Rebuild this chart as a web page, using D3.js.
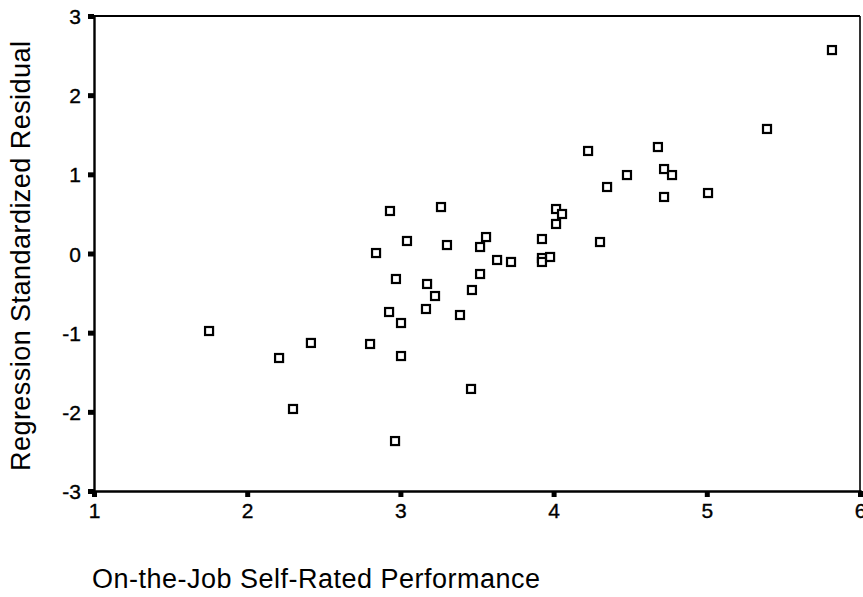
<!DOCTYPE html>
<html>
<head>
<meta charset="utf-8">
<script src="https://cdn.jsdelivr.net/npm/d3@7"></script>
<style>
  html, body { margin: 0; padding: 0; background: #fff; }
  svg { display: block; }
  text { font-family: "Liberation Sans", Arial, sans-serif; fill: #000; }
</style>
</head>
<body>
<svg id="chart" width="863" height="597"></svg>
<script>
const performance = [1.751, 2.208, 2.416, 2.299, 2.802, 2.841, 2.932, 2.971, 2.926, 3.004,
  3.004, 2.965, 3.043, 3.174, 3.167, 3.226, 3.265, 3.304, 3.389, 3.467,
  3.461, 3.520, 3.520, 3.559, 3.631, 3.722, 3.924, 3.924, 3.924, 3.977,
  4.016, 4.016, 4.055, 4.225, 4.303, 4.349, 4.479, 4.681, 4.721, 4.773,
  4.721, 5.008, 5.393, 5.817];
const residual = [-0.979, -1.320, -1.130, -1.964, -1.143, 0.006, 0.537, -0.322, -0.739, -0.878,
  -1.295, -2.369, 0.158, -0.385, -0.701, -0.537, 0.587, 0.107, -0.777, -0.461,
  -1.711, 0.082, -0.259, 0.208, -0.082, -0.107, 0.183, -0.057, -0.107, -0.044,
  0.373, 0.562, 0.499, 1.295, 0.145, 0.840, 0.991, 1.345, 1.067, 0.991,
  0.714, 0.764, 1.573, 2.570];
const xTicks = [1, 2, 3, 4, 5, 6];
const yTicks = [-3, -2, -1, 0, 1, 2, 3];
const xTitle = "On-the-Job Self-Rated Performance";
const yTitle = "Regression Standardized Residual";

const svg = d3.select("#chart");
const L = 94, R = 860, T = 16, B = 491;

const x = d3.scaleLinear().domain([1, 6]).range([L, R]);
const y = d3.scaleLinear().domain([-3, 3]).range([B, T]);

// frame: top and right
svg.append("line").attr("x1", L).attr("x2", R).attr("y1", T).attr("y2", T)
  .attr("stroke", "#000").attr("stroke-width", 2.2);
svg.append("line").attr("x1", R).attr("x2", R).attr("y1", T).attr("y2", B)
  .attr("stroke", "#000").attr("stroke-width", 1.6);

// axes
const xAxis = svg.append("g").attr("transform", `translate(0,${B})`)
  .call(d3.axisBottom(x).tickValues(xTicks).tickFormat(d3.format("d")).tickSize(6).tickPadding(6));
const yAxis = svg.append("g").attr("transform", `translate(${L},0)`)
  .call(d3.axisLeft(y).tickValues(yTicks).tickFormat(d => d < 0 ? "-" + Math.abs(d) : String(d)).tickSize(6).tickPadding(7));

[xAxis, yAxis].forEach(g => {
  g.select(".domain").attr("stroke", "#000").attr("stroke-width", 2.4);
  g.selectAll(".tick line").attr("stroke", "#000").attr("stroke-width", 5);
  g.selectAll(".tick text").style("font-size", "21px").attr("fill", "#000")
    .attr("stroke", "#000").attr("stroke-width", 0.35)
    .style("font-family", '"Liberation Sans", Arial, sans-serif');
});
yAxis.selectAll(".tick text").attr("dy", "0.36em");
xAxis.selectAll(".tick text").attr("dy", "0.72em");

// points
svg.append("g").selectAll("rect")
  .data(performance.map((p, i) => [p, residual[i]]))
  .join("rect")
  .attr("x", d => x(d[0]) - 4)
  .attr("y", d => y(d[1]) - 4)
  .attr("width", 8).attr("height", 8)
  .attr("fill", "#fff").attr("stroke", "#000").attr("stroke-width", 2.2);

// titles
svg.append("text")
  .attr("x", 92).attr("y", 588)
  .attr("textLength", 448).attr("lengthAdjust", "spacing")
  .style("font-size", "27px")
  .text(xTitle);

svg.append("text")
  .attr("transform", "translate(30,256) rotate(-90)")
  .attr("text-anchor", "middle")
  .attr("textLength", 430).attr("lengthAdjust", "spacing")
  .style("font-size", "27px")
  .text(yTitle);
</script>
</body>
</html>
